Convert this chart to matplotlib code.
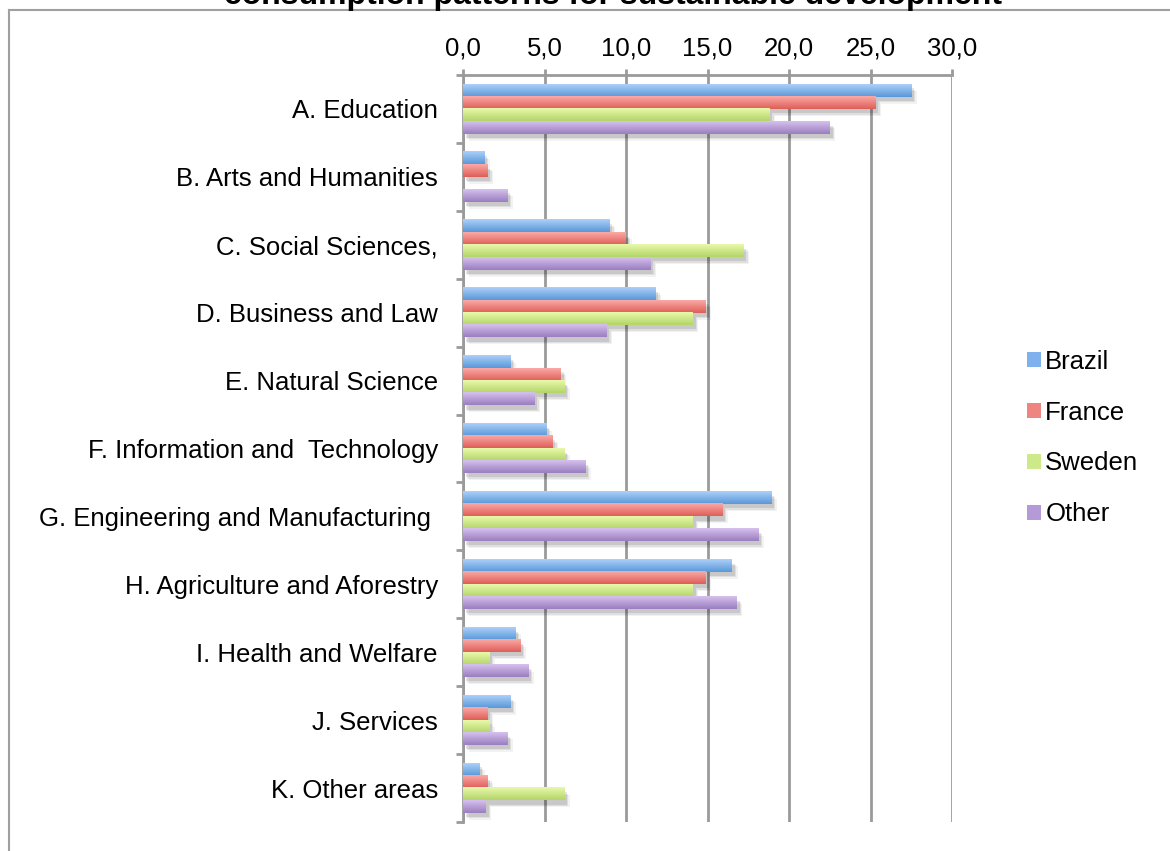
import numpy as np
import matplotlib
matplotlib.use("Agg")
import matplotlib.pyplot as plt
from matplotlib.patches import Patch
from matplotlib.lines import Line2D
from matplotlib.colors import LinearSegmentedColormap
import matplotlib.patheffects as pe

plt.rcParams['font.family'] = ['Liberation Sans', 'DejaVu Sans']

categories = [
    "A. Education",
    "B. Arts and Humanities",
    "C. Social Sciences,",
    "D. Business and Law",
    "E. Natural Science",
    "F. Information and  Technology",
    "G. Engineering and Manufacturing ",
    "H. Agriculture and Aforestry",
    "I. Health and Welfare",
    "J. Services",
    "K. Other areas",
]
series_names = ["Brazil", "France", "Sweden", "Other"]
brazil = [27.5, 1.3, 9.0, 11.8, 2.9, 5.1, 18.9, 16.5, 3.2, 2.9, 1.0]
france = [25.3, 1.5, 10.0, 14.9, 6.0, 5.5, 15.9, 14.9, 3.5, 1.5, 1.5]
sweden = [18.8, 0.0, 17.2, 14.1, 6.2, 6.2, 14.1, 14.1, 1.6, 1.6, 6.2]
other = [22.5, 2.7, 11.5, 8.8, 4.4, 7.5, 18.1, 16.8, 4.0, 2.7, 1.4]
xticks = [0, 5, 10, 15, 20, 25, 30]
title = "consumption patterns for sustainable development"

values = [brazil, france, sweden, other]
# (light top, dark bottom) colour pairs for the bar gradients
grad_colors = [
    ("#acd0fa", "#5a98d8"),
    ("#fbaaa6", "#de5e58"),
    ("#e8f9ab", "#b3d568"),
    ("#d6c1ee", "#9a7ec0"),
]
legend_colors = ["#7fb2ec", "#ef8580", "#cde98a", "#b49ad6"]

fig = plt.figure(figsize=(11.7, 8.51), dpi=100)
ax = fig.add_axes([463 / 1170, 1 - 822 / 851, (952 - 463) / 1170, (822 - 75) / 851])

n = len(categories)
y = np.arange(n)
group = 0.73
bh = group / len(values)
grid_gray = "#9a9a9a"

shadow_fx = [
    pe.SimplePatchShadow(offset=(2, -3), shadow_rgbFace="k", alpha=0.10),
    pe.SimplePatchShadow(offset=(3, -4), shadow_rgbFace="k", alpha=0.08),
    pe.SimplePatchShadow(offset=(4, -5), shadow_rgbFace="k", alpha=0.05),
    pe.Normal(),
]

for i, (vals, (c_top, c_bot)) in enumerate(zip(values, grad_colors)):
    pos = y - group / 2 + bh * (i + 0.5)
    bars = ax.barh(pos, vals, height=bh, color=legend_colors[i], zorder=2,
                   linewidth=0)
    cmap = LinearSegmentedColormap.from_list(f"g{i}", [c_top, c_bot])
    grad = np.linspace(0, 1, 64).reshape(-1, 1)
    for b in bars:
        w = b.get_width()
        if w <= 0:
            b.set_visible(False)
            continue
        b.set_path_effects(shadow_fx)
        x0, y0, h = b.get_x(), b.get_y(), b.get_height()
        ax.imshow(grad, cmap=cmap, aspect="auto", interpolation="bilinear",
                  extent=[x0, x0 + w, y0 + h, y0], origin="upper", zorder=3)

ax.set_xlim(0, 30)
ax.set_ylim(n - 0.5, -0.5)

# x axis on top with grid
ax.xaxis.tick_top()
ax.set_xticks(xticks)
ax.set_xticklabels([f"{t:.1f}".replace(".", ",") for t in xticks], fontsize=18.5)
ax.tick_params(axis="x", which="major", length=4.5, width=2, color=grid_gray, pad=6)
ax.grid(axis="x", color=grid_gray, linewidth=2, zorder=0.5)
ax.set_axisbelow(True)

# y axis: labels at category centres, tick marks at boundaries
ax.set_yticks(y)
ax.set_yticklabels(categories, fontsize=18.5)
ax.set_yticks(np.arange(-0.5, n, 1.0), minor=True)
ax.tick_params(axis="y", which="major", length=0, pad=18)
ax.tick_params(axis="y", which="minor", length=5, width=2, color=grid_gray)

for s in ["right", "bottom"]:
    ax.spines[s].set_visible(False)
for s in ["top", "left"]:
    ax.spines[s].set_color(grid_gray)
    ax.spines[s].set_linewidth(2)

handles = [Patch(facecolor=c, edgecolor="none") for c in legend_colors]
fig.legend(handles, series_names, loc="center left",
           bbox_to_anchor=(1017 / 1170, 1 - 438 / 851), frameon=False,
           fontsize=18.5, handlelength=0.55, handleheight=0.55,
           handletextpad=0.15, labelspacing=1.05, borderaxespad=0)

# chart frame
frame_kw = dict(color="#a0a0a0", linewidth=1.5, transform=fig.transFigure)
fig.add_artist(Line2D([9 / 1170, 1.0], [1 - 10 / 851, 1 - 10 / 851], **frame_kw))
fig.add_artist(Line2D([9 / 1170, 9 / 1170], [1 - 10 / 851, 0.0], **frame_kw))

fig.text(613 / 1170, 1 - 4 / 851, title, ha="center", va="baseline",
         fontsize=23, fontweight="bold")

fig.savefig("out.png", dpi=100)
